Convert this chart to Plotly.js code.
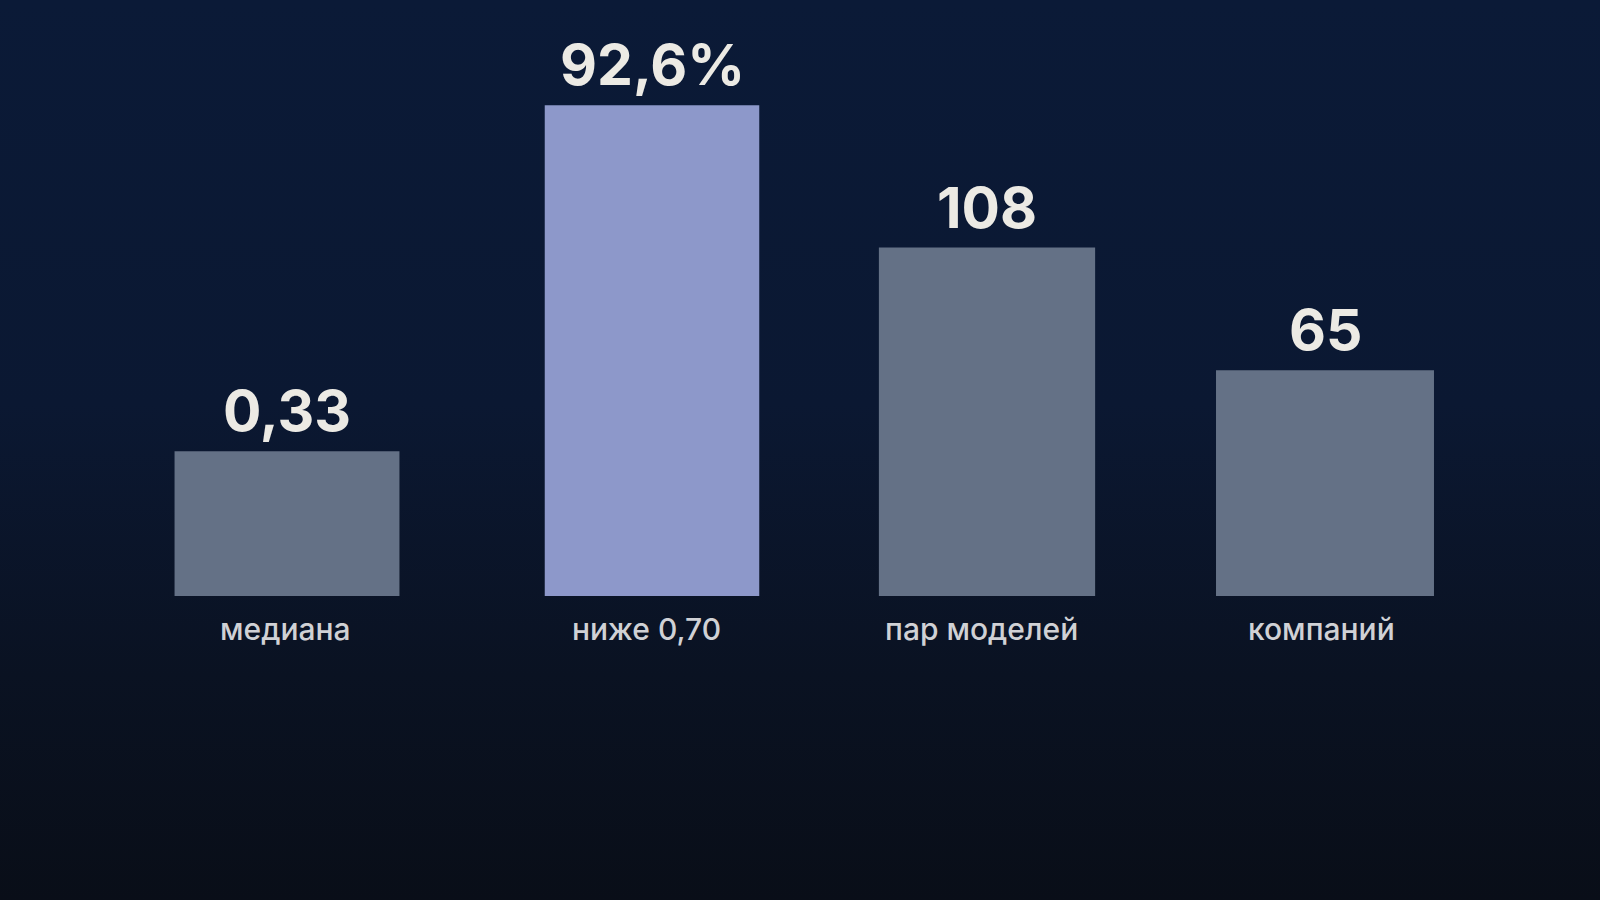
<!DOCTYPE html>
<html>
<head>
<meta charset="utf-8">
<script src="https://cdn.plot.ly/plotly-3.0.1.min.js"></script>
<style>
  html, body {
    margin: 0;
    padding: 0;
    width: 1600px;
    height: 900px;
    overflow: hidden;
    background: linear-gradient(180deg, #0b1a37 0%, #0b1832 45%, #0a1222 75%, #090e18 100%);
  }
  #chart { width: 1600px; height: 900px; }
</style>
</head>
<body>
<div id="chart"></div>
<script>
// categories under the bars
var categories = ["медиана", "ниже 0,70", "пар моделей", "компаний"];
// numbers printed above each bar
var valueLabels = ["0,33", "92,6%", "108", "65"];
// bar heights as drawn, in % of the tallest bar
var barHeights = [29.5, 100, 71, 46];

var barColors = ["#647186", "#8d98ca", "#647186", "#647186"];
var barWidths = [0.65, 0.62, 0.625, 0.63];
// the slots are not evenly spaced in the original, nudge them (px)
var barShift = [0, 19, 8, 0];
var labelShift = [-2, 13, 2, -4];
var PX_PER_SLOT = 346;

var FONT = "Inter, 'Open Sans', sans-serif";

function draw_bars(div_id) {
    var dataset = [
        {
            x: categories,
            y: barHeights,
            type: "bar",
            width: barWidths,
            offset: barWidths.map(function (w, i) {
                return barShift[i] / PX_PER_SLOT - w / 2;
            }),
            marker: {
                color: barColors,
                line: { width: 0 },
            },
            hoverinfo: "skip",
        },
    ];

    var values = categories.map(function (c, i) {
        return {
            x: c,
            y: barHeights[i],
            text: valueLabels[i],
            showarrow: false,
            xanchor: "center",
            yanchor: "bottom",
            xshift: barShift[i],
            yshift: 4,
            font: { family: FONT, size: 57, weight: 700, color: "#eceae4" },
        };
    });

    var names = categories.map(function (c, i) {
        return {
            x: c,
            y: 0,
            yref: "paper",
            text: c,
            showarrow: false,
            xanchor: "center",
            yanchor: "top",
            xshift: labelShift[i],
            yshift: -13,
            font: { family: FONT, size: 30, weight: 500, color: "#d0d1d5" },
        };
    });

    var layout = {
        width: 1600,
        height: 900,
        margin: { l: 114, r: 102, t: 7, b: 304 },
        paper_bgcolor: "rgba(0,0,0,0)",
        plot_bgcolor: "rgba(0,0,0,0)",
        showlegend: false,
        xaxis: {
            type: "category",
            range: [-0.5, 3.5],
            showgrid: false,
            zeroline: false,
            showline: false,
            ticks: "",
            showticklabels: false,
            fixedrange: true,
        },
        yaxis: {
            range: [0, 120],
            visible: false,
            fixedrange: true,
        },
        annotations: values.concat(names),
    };

    return Plotly.newPlot(div_id, dataset, layout, { displayModeBar: false, staticPlot: true });
}

draw_bars("chart");
</script>
</body>
</html>
